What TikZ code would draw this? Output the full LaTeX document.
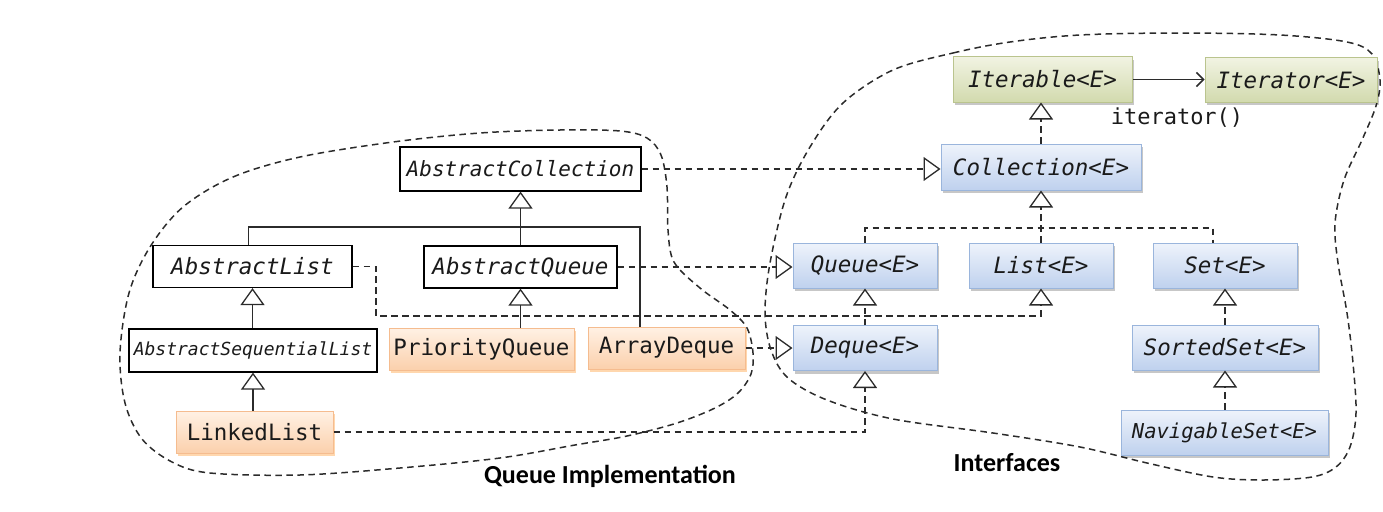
\documentclass[tikz,border=0pt]{standalone}
\usepackage{fontspec}
\setmonofont{DejaVu Sans Mono}[ItalicFont={* Oblique}]
\newfontfamily\lblfont{Carlito}
\usetikzlibrary{arrows.meta,shadows}
\definecolor{linec}{HTML}{2B2B2B}
\definecolor{bluetop}{HTML}{EEF3FB}
\definecolor{bluebot}{HTML}{BFD1EE}
\definecolor{blueedge}{HTML}{9AB5DC}
\definecolor{greentop}{HTML}{F1F3E2}
\definecolor{greenbot}{HTML}{D2DAAE}
\definecolor{greenedge}{HTML}{BAC48E}
\definecolor{orangetop}{HTML}{FFF1E4}
\definecolor{orangebot}{HTML}{FBD0AC}
\definecolor{orangeedge}{HTML}{F5BC8F}
\definecolor{txt}{HTML}{1A1A1A}
\tikzset{
  basebox/.style={inner sep=0pt, text=txt, anchor=center},
  absbox/.style={basebox, draw=black, line width=1.2pt, fill=white,
    font=\ttfamily\itshape\fontsize{21}{24}\selectfont},
  implbox/.style={basebox, draw=orangeedge, line width=1pt,
    top color=orangetop, bottom color=orangebot,
    drop shadow={shadow xshift=1.5pt, shadow yshift=-2.5pt, fill=orange!70!white, opacity=0.45},
    font=\ttfamily\fontsize{22.5}{24}\selectfont},
  ifbox/.style={basebox, draw=blueedge, line width=1pt,
    top color=bluetop, bottom color=bluebot,
    drop shadow={shadow xshift=2pt, shadow yshift=-3pt, fill=black, opacity=0.22},
    font=\ttfamily\itshape\fontsize{22.5}{24}\selectfont},
  itbox/.style={basebox, draw=greenedge, line width=1pt,
    top color=greentop, bottom color=greenbot,
    drop shadow={shadow xshift=2pt, shadow yshift=-3pt, fill=black, opacity=0.22},
    font=\ttfamily\itshape\fontsize{22.5}{24}\selectfont},
  tri/.tip={Triangle[open, length=17pt, width=24pt, line width=1.3pt]},
  inh/.style={draw=linec, line width=1.4pt, -tri},
  plainline/.style={draw=linec, line width=1.4pt},
  dep/.style={draw=linec, line width=1.5pt, dash pattern=on 6.5pt off 4.5pt, -tri},
  depline/.style={draw=linec, line width=1.5pt, dash pattern=on 6.5pt off 4.5pt},
  assoc/.style={draw=linec, line width=1.5pt, -{Straight Barb[length=7pt, width=14pt, line width=1.5pt]}},
  blob/.style={draw=linec, line width=1.5pt, dash pattern=on 6.5pt off 4.5pt},
  grouplbl/.style={font=\lblfont\bfseries\fontsize{26}{28}\selectfont, text=black, inner sep=0pt}
}
\begin{document}
\begin{tikzpicture}[x=1pt, y=-1pt]
\useasboundingbox (0,0) rectangle (1383,511);
% group outlines
\draw[blob] plot[smooth cycle, tension=0.55] coordinates {
  (183,207) (233,177) (300,157) (393,142) (480,133) (560,130) (620,131)
  (647,138) (661,155) (667,187) (668,230) (674,262) (700,288) (730,310)
  (747,328) (753,353) (751,374) (738,393) (715,408) (677,423) (627,436)
  (575,445) (500,458) (400,468) (300,475) (210,473) (172,462) (142,439)
  (125,403) (120,353) (129,293) (150,247)};
\draw[blob] plot[smooth cycle, tension=0.55] coordinates {
  (893,70) (953,53) (1010,42) (1080,35) (1180,33) (1280,35) (1347,42)
  (1372,54) (1380,80) (1376,106) (1362,140) (1344,180) (1335,223)
  (1338,263) (1347,313) (1353,363) (1356,413) (1350,447) (1336,467)
  (1312,477) (1263,480) (1213,477) (1147,463) (1080,447) (993,433)
  (893,419) (827,400) (788,378) (771,350) (765,313) (770,263) (786,197)
  (810,147) (843,103)};
% implementation side
\node[absbox, minimum width=241pt, minimum height=44pt] (ACol) at (520.5,169) {AbstractCollection};
\node[absbox, minimum width=199pt, minimum height=42pt, font=\ttfamily\itshape\fontsize{22.5}{24}\selectfont] (AList) at (252.5,266.5) {AbstractList};
\node[absbox, minimum width=193pt, minimum height=42pt, font=\ttfamily\itshape\fontsize{22.5}{24}\selectfont] (AQ) at (520.5,267) {AbstractQueue};
\node[absbox, minimum width=248pt, minimum height=43pt, font=\ttfamily\itshape\fontsize{18}{20}\selectfont] (ASL) at (253,350.5) {AbstractSequentialList};
\node[implbox, minimum width=185pt, minimum height=42pt] (PQ) at (481.5,349) {PriorityQueue};
\node[implbox, minimum width=157pt, minimum height=42pt] (AD) at (666.5,348) {ArrayDeque};
\node[implbox, minimum width=157pt, minimum height=42pt] (LL) at (254.5,432) {LinkedList};
% interfaces side
\node[itbox, minimum width=179pt, minimum height=45pt] (Iterable) at (1042.5,79.5) {Iterable<E>};
\node[itbox, minimum width=172pt, minimum height=44pt] (Iterator) at (1291,80) {Iterator<E>};
\node[ifbox, minimum width=200pt, minimum height=46pt] (Coll) at (1041,167) {Collection<E>};
\node[ifbox, minimum width=144pt, minimum height=45pt] (Queue) at (865,265.5) {Queue<E>};
\node[ifbox, minimum width=144pt, minimum height=45pt] (List) at (1041,265.5) {List<E>};
\node[ifbox, minimum width=144pt, minimum height=45pt] (Set) at (1225,265.5) {Set<E>};
\node[ifbox, minimum width=144pt, minimum height=45pt] (Deque) at (865,348) {Deque<E>};
\node[ifbox, minimum width=186pt, minimum height=45pt] (SSet) at (1225,347.5) {SortedSet<E>};
\node[ifbox, minimum width=207pt, minimum height=45pt, font=\ttfamily\itshape\fontsize{20.5}{24}\selectfont] (NSet) at (1224.5,432.5) {NavigableSet<E>};
\node[basebox, font=\ttfamily\fontsize{22}{24}\selectfont] (itlbl) at (1177,118) {iterator()};
% group labels
\node[grouplbl] (qimpl) at (610,476) {Queue Implementation};
\node[grouplbl] (ifaces) at (1007,463) {Interfaces};
% solid inheritance
\coordinate (adj) at (640,227);
\draw[plainline] ([xshift=-4pt]AList.north) |- (adj) -- (adj |- AD.north);
\draw[inh] (AQ.north) -- (ACol.south);
\draw[inh] (ASL.north -| AList.south) -- (AList.south);
\draw[inh] (LL.north -| ASL.south) -- (ASL.south);
\draw[inh] (PQ.north -| AQ.south) -- (AQ.south);
% realisations across
\draw[dep] (ACol.east) -- (ACol.east -| Coll.west);
\draw[dep] (AQ.east) -- (AQ.east -| Queue.west);
\draw[dep] (AD.east) -- (AD.east -| Deque.west);
\coordinate (al1) at (376,316);
\draw[dep] (AList.east) -| (al1) -| (List.south);
\draw[dep] (LL.east) -| (Deque.south);
% interface hierarchy
\coordinate (qt) at (1041,228);
\draw[depline] (Queue.north) |- (qt) -| ([xshift=-12pt]Set.north);
\draw[dep] (List.north) -- (Coll.south);
\draw[dep] (Coll.north) -- (Iterable.south -| Coll.north);
\draw[dep] (Deque.north) -- (Queue.south);
\draw[dep] (SSet.north) -- (Set.south -| SSet.north);
\draw[dep] (NSet.north -| SSet.south) -- (SSet.south);
\draw[assoc] (Iterable.east) -- (Iterable.east -| Iterator.west);
\end{tikzpicture}
\end{document}
